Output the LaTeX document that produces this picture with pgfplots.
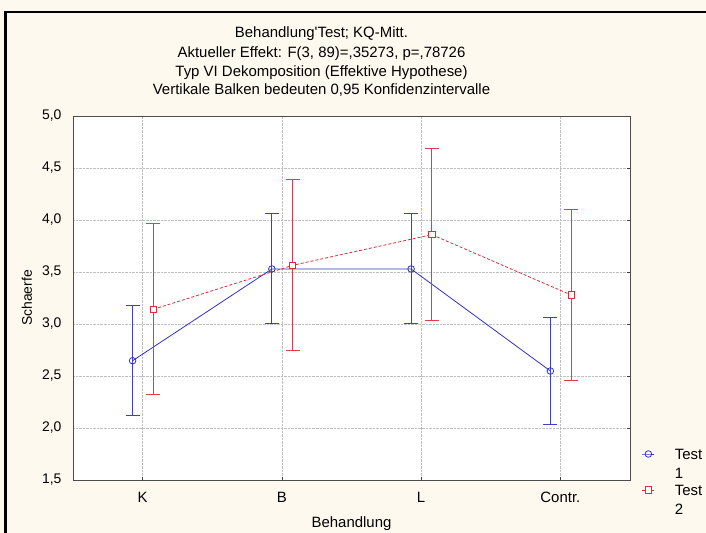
\documentclass[border=0pt]{standalone}
\usepackage{fontspec}
\setmainfont{Liberation Sans}
\usepackage{pgfplots}
\pgfplotsset{compat=1.18}
\definecolor{bgc}{RGB}{253,249,238}
\definecolor{bl}{RGB}{50,50,200}
\definecolor{blbar}{RGB}{60,60,220}
\definecolor{rd}{RGB}{218,45,55}
\definecolor{rdbar}{RGB}{225,60,75}
\begin{document}
\begin{tikzpicture}[x=1bp,y=1bp]
\useasboundingbox (0,0) rectangle (706,533);
\fill[bgc] (0,0) rectangle (706,533);
\draw[line width=2.5bp] (5.5,-10) -- (5.5,521) -- (720,521);
\begin{scope}[every node/.style={anchor=base, font=\fontsize{15}{18}\selectfont}]
\node at (321.5,495.5) {Behandlung\textquotesingle Test; KQ-Mitt.};
\node at (321.5,475) {Aktueller Effekt: F(3, 89)=,35273, p=,78726};
\node at (321.5,456.5) {Typ VI Dekomposition (Effektive Hypothese)};
\node at (321.5,438) {Vertikale Balken bedeuten 0,95 Konfidenzintervalle};
\end{scope}
\begin{axis}[
  at={(73bp,53bp)}, anchor=south west, scale only axis,
  width=557bp, height=364bp,
  axis background/.style={fill=white},
  xmin=-0.5, xmax=3.5, ymin=1.5, ymax=5,
  xtick={0,1,2,3}, xticklabels={K,B,L,Contr.},
  ytick={1.5,2,2.5,3,3.5,4,4.5,5},
  yticklabel style={font=\fontsize{14}{16}\selectfont, xshift=-8bp,
    /pgf/number format/fixed, /pgf/number format/fixed zerofill,
    /pgf/number format/precision=1, /pgf/number format/use comma,
    /pgf/number format/assume math mode=true},
  xticklabel style={font=\fontsize{15}{18}\selectfont, yshift=-9bp},
  tick align=inside, major tick length=3bp,
  xtick pos=bottom, ytick pos=right, yticklabel pos=left,
  tick style={black!75, line width=0.6bp},
  grid=major, major grid style={densely dotted, black!25, line width=0.6bp},
  axis line style={black!70, line width=0.8bp},
  xlabel={Behandlung}, ylabel={Schaerfe},
  xlabel style={font=\fontsize{15}{18}\selectfont, at={(axis description cs:0.5,0)}, anchor=center, yshift=-44bp},
  ylabel style={font=\fontsize{14}{16}\selectfont, at={(axis description cs:-0.0826,0.5)}, anchor=center},
  legend cell align=left,
  legend style={at={(axis description cs:1.0215,0.0907)}, anchor=north west, draw=none, fill=none,
    inner sep=0pt, outer sep=0pt, column sep=20bp, row sep=22bp,
    font=\fontsize{15}{18}\selectfont, nodes={inner sep=0pt}},
  legend image code/.code={\draw[mark repeat=2, mark phase=2, #1] plot coordinates {(0bp,0bp) (6bp,0bp) (12bp,0bp)};},
]
\addplot[bl, line width=0.8bp, mark=o, mark size=3.3bp, mark options={fill=white, solid},
  error bars/.cd, y dir=both, y explicit,
  error bar style={draw=blbar, line width=1bp, solid},
  error mark options={rotate=90, mark size=7bp, draw=blbar, line width=1bp}]
  coordinates {
  (-0.072,2.647) +- (0,0.527)
  (0.928,3.529) +- (0,0.529)
  (1.928,3.529) +- (0,0.529)
  (2.928,2.548) +- (0,0.515)
};
\addlegendentry{\begin{tabular}[t]{@{}l@{}}Test\\[1pt]1\end{tabular}}
\addplot[rd, line width=0.8bp, densely dashed, mark=square*, mark size=3.2bp, mark options={fill=white, solid},
  error bars/.cd, y dir=both, y explicit,
  error bar style={draw=rdbar, line width=1bp, solid},
  error mark options={rotate=90, mark size=7bp, draw=rdbar, line width=1bp}]
  coordinates {
  (0.077,3.141) +- (0,0.822)
  (1.077,3.564) +- (0,0.823)
  (2.077,3.859) +- (0,0.825)
  (3.077,3.279) +- (0,0.820)
};
\addlegendentry{\begin{tabular}[t]{@{}l@{}}Test\\[1pt]2\end{tabular}}
\end{axis}
\end{tikzpicture}
\end{document}
